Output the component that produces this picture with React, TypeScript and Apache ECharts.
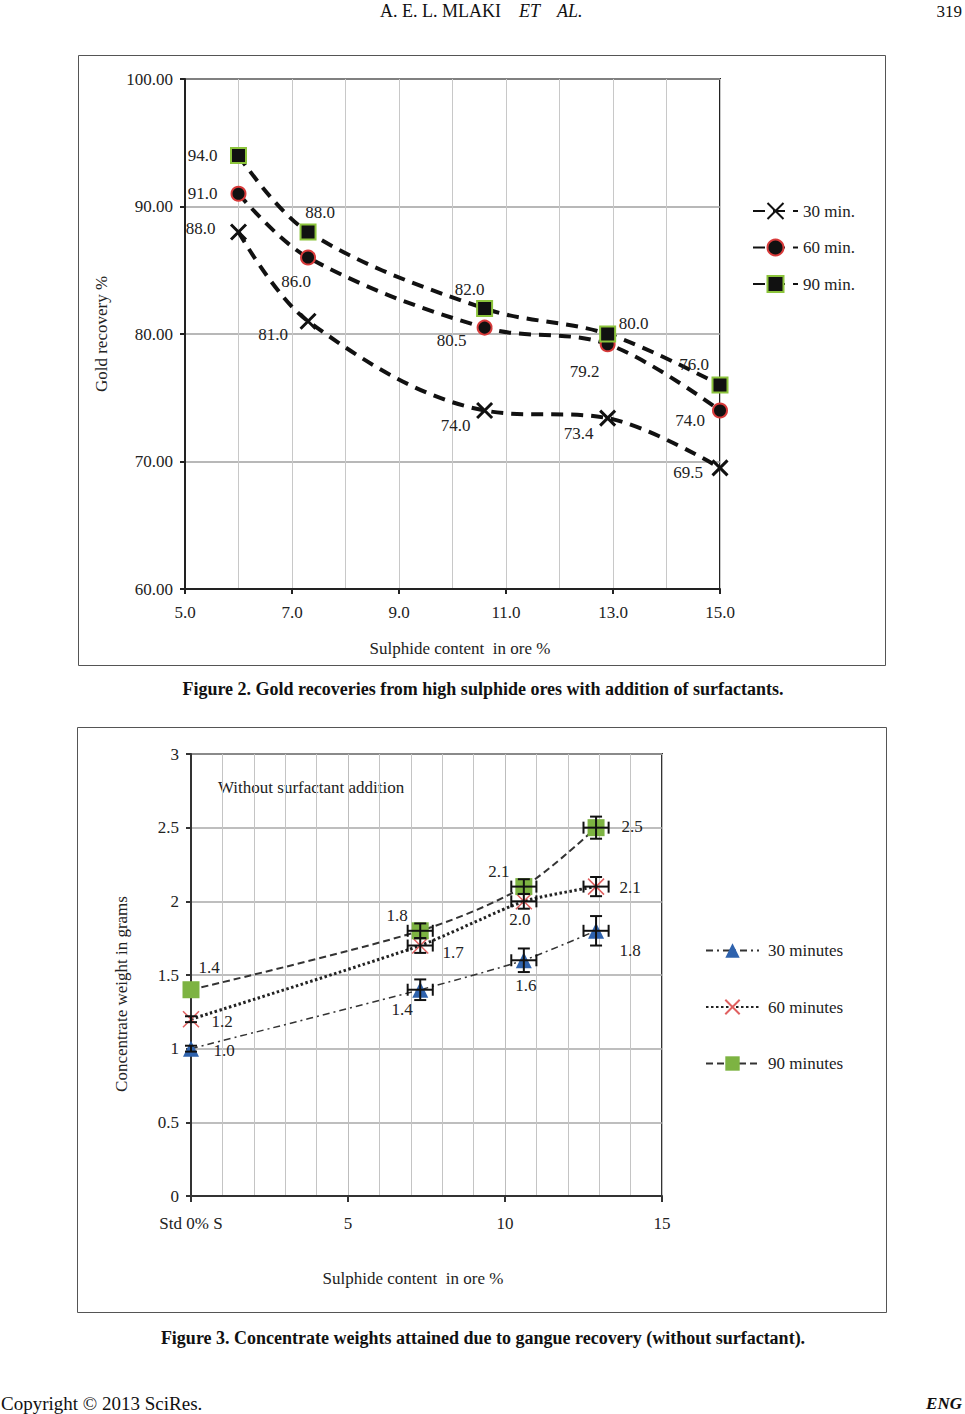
import React, { useEffect, useRef } from "react";
import * as echarts from "echarts";

// ---------- Figure 2 data ----------
const fig2Sulphide = [6.0, 7.3, 10.6, 12.9, 15.0];
const fig2Min30 = [88.0, 81.0, 74.0, 73.4, 69.5];
const fig2Min60 = [91.0, 86.0, 80.5, 79.2, 74.0];
const fig2Min90 = [94.0, 88.0, 82.0, 80.0, 76.0];
const fig2Names = ["30 min.", "60 min.", "90 min."];

// ---------- Figure 3 data ----------
const fig3Sulphide = [0, 7.3, 10.6, 12.9];
const fig3Min30 = [1.0, 1.4, 1.6, 1.8];
const fig3Min60 = [1.2, 1.7, 2.0, 2.1];
const fig3Min90 = [1.4, 1.8, 2.1, 2.5];
const fig3ErrY30 = [0.02, 0.07, 0.08, 0.1];
const fig3ErrY60 = [0.02, 0.05, 0.05, 0.065];
const fig3ErrY90 = [0.0, 0.05, 0.05, 0.075];
const fig3ErrX = [0, 0.4, 0.4, 0.4];
const fig3Names = ["30 minutes", "60 minutes", "90 minutes"];

// ---------- label layout (pixel offsets from the marker) ----------
const fig2Off30 = [[-38, -4], [-35, 13], [-29, 15], [-29, 15], [-32, 5]];
const fig2Off60 = [[-36, 0], [-12, 24], [-33, 13], [-23, 27], [-30, 10]];
const fig2Off90 = [[-36, 0], [12, -20], [-15, -19], [26, -11], [-26, -21]];
const fig3Off30 = [[33, 2], [-18, 20], [2, 25], [34, 20]];
const fig3Off60 = [[31, 2], [33, 7], [-4, 18], [34, 1]];
const fig3Off90 = [[18, -22], [-23, -15], [-25, -15], [36, -1]];

const FONT = "Liberation Serif";
const TXT = "#222";
const FS = 17;

const crossPath = "path://M2,2L18,18M18,2L2,18";

function pts(xs: number[], ys: number[], offs: number[][]) {
  return xs.map((x, i) => ({
    value: [x, ys[i]],
    label: { offset: offs[i] },
  }));
}

export default function App() {
  const ref = useRef<HTMLDivElement>(null);
  useEffect(() => {
    if (!ref.current) return;
    const chart = echarts.init(ref.current, undefined, { renderer: "svg" });
    const labelBase = {
      show: true,
      position: "inside",
      align: "center",
      verticalAlign: "middle",
      fontFamily: FONT,
      fontSize: FS,
      color: TXT,
      formatter: (p: any) => Number(p.value[1]).toFixed(1),
    };
    const fig2Line = {
      type: [12, 8],
      width: 4,
      color: "#111",
    };
    const errData = (ys: number[], ey: number[]) =>
      fig3Sulphide.map((x, i) => [x, ys[i], ey[i], fig3ErrX[i]]);

    const option: any = {
      animation: false,
      backgroundColor: "#fff",
      textStyle: { fontFamily: FONT },
      grid: [
        { left: 185, top: 79, width: 535, height: 510, show: true, borderColor: "#222", borderWidth: 2, backgroundColor: "transparent" },
        { left: 191, top: 754, width: 471, height: 442, show: true, borderColor: "#333", borderWidth: 2, backgroundColor: "transparent" },
      ],
      xAxis: [
        {
          gridIndex: 0, type: "value", min: 5, max: 15, interval: 2,
          axisLine: { lineStyle: { color: "#222", width: 2 } },
          axisTick: { show: true, length: 5, lineStyle: { color: "#222", width: 2 } },
          axisLabel: { margin: 15, fontFamily: FONT, fontSize: FS, color: TXT, formatter: (v: number) => v.toFixed(1) },
          splitLine: { show: true, lineStyle: { color: "#c8c8c8", width: 1 } },
          minorTick: { show: false, splitNumber: 2 },
          minorSplitLine: { show: true, lineStyle: { color: "#c8c8c8", width: 1 } },
        },
        {
          gridIndex: 1, type: "value", min: 0, max: 15, interval: 5,
          axisLine: { lineStyle: { color: "#333", width: 2 } },
          axisTick: { show: true, length: 6, lineStyle: { color: "#333", width: 2 } },
          axisLabel: { margin: 19, fontFamily: FONT, fontSize: FS, color: TXT, formatter: (v: number) => (v === 0 ? "Std 0% S" : String(v)) },
          splitLine: { show: true, lineStyle: { color: "#bdbdbd", width: 1 } },
          minorTick: { show: false, splitNumber: 5 },
          minorSplitLine: { show: true, lineStyle: { color: "#c4c4c4", width: 1 } },
        },
      ],
      yAxis: [
        {
          gridIndex: 0, type: "value", min: 60, max: 100, interval: 10,
          axisLine: { show: true, lineStyle: { color: "#222", width: 2 } },
          axisTick: { show: true, length: 5, lineStyle: { color: "#222", width: 2 } },
          axisLabel: { margin: 12, fontFamily: FONT, fontSize: FS, color: TXT, formatter: (v: number) => v.toFixed(2) },
          splitLine: { show: true, lineStyle: { color: "#a0a0a0", width: 1.5 } },
        },
        {
          gridIndex: 1, type: "value", min: 0, max: 3, interval: 0.5,
          axisLine: { show: true, lineStyle: { color: "#333", width: 2 } },
          axisTick: { show: true, length: 5, lineStyle: { color: "#333", width: 2 } },
          axisLabel: { margin: 12, fontFamily: FONT, fontSize: FS, color: TXT },
          splitLine: { show: true, lineStyle: { color: "#a8a8a8", width: 1.5 } },
        },
      ],
      legend: [
        {
          orient: "vertical", left: 747, top: 197, itemWidth: 45, itemHeight: 20, itemGap: 18.5,
          data: fig2Names,
          textStyle: { fontFamily: FONT, fontSize: FS, color: TXT },
        },
        {
          orient: "vertical", left: 700, top: 937, itemWidth: 53, itemHeight: 18, itemGap: 39.5,
          data: fig3Names,
          textStyle: { fontFamily: FONT, fontSize: FS, color: TXT, padding: [0, 0, 0, 4] },
        },
      ],
      series: [
        {
          name: fig2Names[0], type: "line", xAxisIndex: 0, yAxisIndex: 0, smooth: 0.35,
          data: pts(fig2Sulphide, fig2Min30, fig2Off30),
          symbol: crossPath, symbolSize: 15,
          itemStyle: { color: "transparent", borderColor: "#111", borderWidth: 3 },
          lineStyle: fig2Line, label: labelBase, z: 3,
        },
        {
          name: fig2Names[1], type: "line", xAxisIndex: 0, yAxisIndex: 0, smooth: 0.35,
          data: pts(fig2Sulphide, fig2Min60, fig2Off60),
          symbol: "circle", symbolSize: 14,
          itemStyle: { color: "#111", borderColor: "#d83a3a", borderWidth: 2 },
          lineStyle: fig2Line, label: labelBase, z: 3,
        },
        {
          name: fig2Names[2], type: "line", xAxisIndex: 0, yAxisIndex: 0, smooth: 0.35,
          data: pts(fig2Sulphide, fig2Min90, fig2Off90),
          symbol: "rect", symbolSize: 15,
          itemStyle: { color: "#111", borderColor: "#8cc43c", borderWidth: 2 },
          lineStyle: fig2Line, label: labelBase, z: 3,
        },
        {
          name: fig3Names[0], type: "line", xAxisIndex: 1, yAxisIndex: 1, smooth: 0.2,
          data: pts(fig3Sulphide, fig3Min30, fig3Off30),
          symbol: "triangle", symbolSize: 16,
          itemStyle: { color: "#2e62ad" },
          lineStyle: { type: [7, 4, 2, 4], width: 1.5, color: "#333" },
          label: labelBase, z: 3,
        },
        {
          name: fig3Names[1], type: "line", xAxisIndex: 1, yAxisIndex: 1, smooth: 0.2,
          data: pts(fig3Sulphide, fig3Min60, fig3Off60),
          symbol: "path://M2,2L18,18M18,2L2,18", symbolSize: 16,
          itemStyle: { color: "transparent", borderColor: "#e06060", borderWidth: 1.5 },
          lineStyle: { type: [2.5, 2.5], width: 3, color: "#222" },
          label: labelBase, z: 3,
        },
        {
          name: fig3Names[2], type: "line", xAxisIndex: 1, yAxisIndex: 1, smooth: 0.3,
          data: pts(fig3Sulphide, fig3Min90, fig3Off90),
          symbol: "rect", symbolSize: 17,
          itemStyle: { color: "#7db342" },
          lineStyle: { type: [7, 4], width: 2, color: "#333" },
          label: labelBase, z: 3,
        },
        ...[
          errData(fig3Min30, fig3ErrY30),
          errData(fig3Min60, fig3ErrY60),
          errData(fig3Min90, fig3ErrY90),
        ].map((d) => ({
          type: "custom", xAxisIndex: 1, yAxisIndex: 1, z: 5, clip: false,
          encode: { x: 0, y: 1 },
          data: d,
          renderItem: (params: any, api: any) => {
            const x = api.value(0), y = api.value(1), ey = api.value(2), ex = api.value(3);
            const children: any[] = [];
            const st = { stroke: "#111", lineWidth: 2 };
            if (ey > 0) {
              const t = api.coord([x, y + ey]);
              const b = api.coord([x, y - ey]);
              children.push({ type: "line", shape: { x1: t[0], y1: t[1], x2: b[0], y2: b[1] }, style: st });
              children.push({ type: "line", shape: { x1: t[0] - 6, y1: t[1], x2: t[0] + 6, y2: t[1] }, style: st });
              children.push({ type: "line", shape: { x1: b[0] - 6, y1: b[1], x2: b[0] + 6, y2: b[1] }, style: st });
            }
            if (ex > 0) {
              const l = api.coord([x - ex, y]);
              const r = api.coord([x + ex, y]);
              children.push({ type: "line", shape: { x1: l[0], y1: l[1], x2: r[0], y2: r[1] }, style: st });
              children.push({ type: "line", shape: { x1: l[0], y1: l[1] - 6, x2: l[0], y2: l[1] + 6 }, style: st });
              children.push({ type: "line", shape: { x1: r[0], y1: r[1] - 6, x2: r[0], y2: r[1] + 6 }, style: st });
            }
            return { type: "group", children };
          },
        })),
      ],
      graphic: [
        { type: "rect", shape: { x: 78.5, y: 55.5, width: 807, height: 610 }, style: { fill: "none", stroke: "#555", lineWidth: 1 }, z: -1 },
        { type: "rect", shape: { x: 77.5, y: 727.5, width: 809, height: 585 }, style: { fill: "none", stroke: "#555", lineWidth: 1 }, z: -1 },
        { type: "text", x: 380, y: 11, style: { text: "A. E. L. MLAKI", font: `18px "${FONT}"`, fill: "#111", textVerticalAlign: "middle" } },
        { type: "text", x: 519, y: 11, style: { text: "ET", font: `italic 18px "${FONT}"`, fill: "#111", textVerticalAlign: "middle" } },
        { type: "text", x: 557, y: 11, style: { text: "AL.", font: `italic 18px "${FONT}"`, fill: "#111", textVerticalAlign: "middle" } },
        { type: "text", x: 962, y: 11, style: { text: "319", font: `17px "${FONT}"`, fill: "#111", textAlign: "right", textVerticalAlign: "middle" } },
        { type: "text", x: 101, y: 334, rotation: Math.PI / 2, style: { text: "Gold recovery %", font: `${FS}px "${FONT}"`, fill: TXT, textAlign: "center", textVerticalAlign: "middle" } },
        { type: "text", x: 460, y: 648, style: { text: "Sulphide content  in ore %", font: `${FS}px "${FONT}"`, fill: TXT, textAlign: "center", textVerticalAlign: "middle" } },
        { type: "text", x: 483, y: 689, style: { text: "Figure 2. Gold recoveries from high sulphide ores with addition of surfactants.", font: `bold 18px "${FONT}"`, fill: "#111", textAlign: "center", textVerticalAlign: "middle" } },
        { type: "text", x: 218, y: 787, style: { text: "Without surfactant addition", font: `${FS}px "${FONT}"`, fill: TXT, textVerticalAlign: "middle" } },
        { type: "text", x: 121, y: 994, rotation: Math.PI / 2, style: { text: "Concentrate weight in grams", font: `${FS}px "${FONT}"`, fill: TXT, textAlign: "center", textVerticalAlign: "middle" } },
        { type: "text", x: 413, y: 1278, style: { text: "Sulphide content  in ore %", font: `${FS}px "${FONT}"`, fill: TXT, textAlign: "center", textVerticalAlign: "middle" } },
        { type: "text", x: 483, y: 1338, style: { text: "Figure 3. Concentrate weights attained due to gangue recovery (without surfactant).", font: `bold 18px "${FONT}"`, fill: "#111", textAlign: "center", textVerticalAlign: "middle" } },
        { type: "text", x: 1, y: 1403, style: { text: "Copyright © 2013 SciRes.", font: `19px "${FONT}"`, fill: "#111", textVerticalAlign: "middle" } },
        { type: "text", x: 962, y: 1403, style: { text: "ENG", font: `italic bold 17px "${FONT}"`, fill: "#111", textAlign: "right", textVerticalAlign: "middle" } },
      ],
    };
    chart.setOption(option);
    return () => chart.dispose();
  }, []);
  return (
    <div
      ref={ref}
      style={{ position: "absolute", left: 0, top: 0, width: 965, height: 1414, background: "#fff" }}
    />
  );
}
